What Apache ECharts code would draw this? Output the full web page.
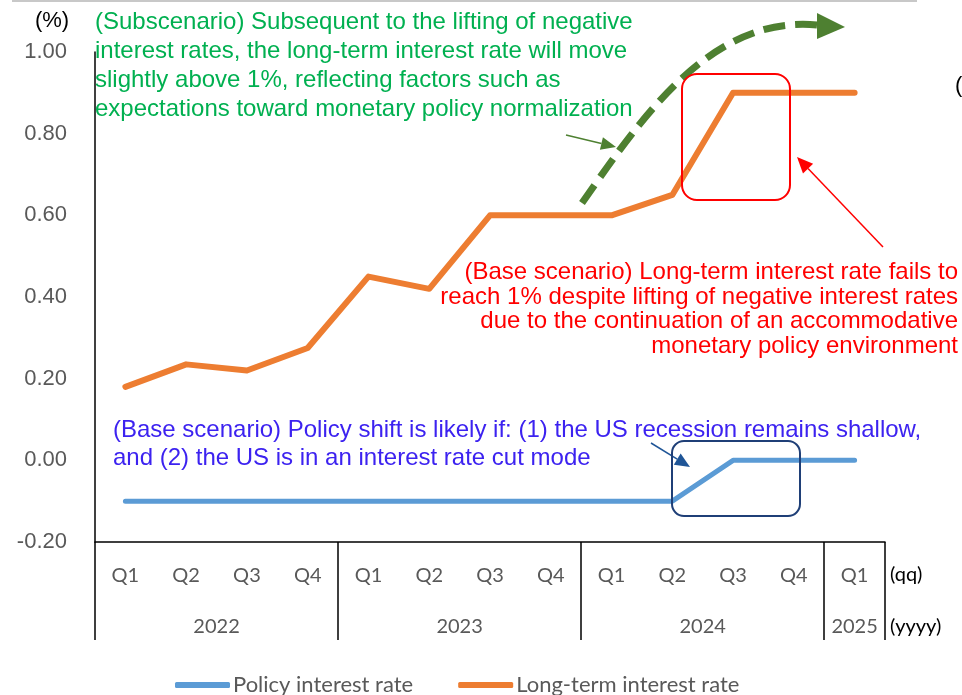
<!DOCTYPE html>
<html>
<head>
<meta charset="utf-8">
<script src="https://cdn.jsdelivr.net/npm/echarts@6/dist/echarts.min.js"></script>
<style>html,body{margin:0;padding:0;background:#fff;}#c{width:962px;height:695px;}</style>
</head>
<body>
<div id="c"></div>
<script>
const quarters = ['Q1','Q2','Q3','Q4','Q1','Q2','Q3','Q4','Q1','Q2','Q3','Q4','Q1'];
const years = ['2022','2023','2024','2025'];
const yearCenters = [2, 6, 10, 12.5];
const yearBounds = [0, 4, 8, 12, 13];
const policyRate = [-0.10,-0.10,-0.10,-0.10,-0.10,-0.10,-0.10,-0.10,-0.10,-0.10,0.00,0.00,0.00];
const longTermRate = [0.18,0.235,0.22,0.275,0.45,0.42,0.60,0.60,0.60,0.65,0.90,0.90,0.90];

const sansQ = 'Lato';
const sansA = '"Liberation Sans", Arial';

const chart = echarts.init(document.getElementById('c'), null, {renderer:'canvas'});

function arrow(x1,y1,x2,y2,color,w,hl,hw){
  const a = Math.atan2(y2-y1,x2-x1);
  const bx = x2 - hl*Math.cos(a), by = y2 - hl*Math.sin(a);
  const px = -Math.sin(a)*hw/2, py = Math.cos(a)*hw/2;
  return [
    {type:'line', shape:{x1:x1,y1:y1,x2:bx,y2:by}, style:{stroke:color,lineWidth:w}, z:10},
    {type:'polygon', shape:{points:[[x2,y2],[bx+px,by+py],[bx-px,by-py]]}, style:{fill:color}, z:10}
  ];
}

const graphics = [
  {type:'line', shape:{x1:12,y1:1,x2:917,y2:1}, style:{stroke:'#c8c8c8',lineWidth:2}},
  {type:'text', style:{x:52,y:21,text:'(%)',font:'22px '+sansA,fill:'#000',align:'center',verticalAlign:'middle'}},
  {type:'text', style:{x:955,y:86,text:'(',font:'22px '+sansA,fill:'#000',verticalAlign:'middle'}},
  {type:'text', style:{x:890,y:575,text:'(qq)',font:'20px '+sansQ,fill:'#000',verticalAlign:'middle'}},
  {type:'text', style:{x:890,y:627,text:'(yyyy)',font:'20px '+sansQ,fill:'#000',verticalAlign:'middle'}},
  {type:'text', z:20, style:{x:95,y:8,text:'(Subscenario) Subsequent to the lifting of negative\ninterest rates, the long-term interest rate will move\nslightly above 1%, reflecting factors such as\nexpectations toward monetary policy normalization',
     font:'24px '+sansA, lineHeight:29, fill:'#00B050', verticalAlign:'top'}},
  {type:'text', z:20, style:{x:958,y:260,text:'(Base scenario) Long-term interest rate fails to\nreach 1% despite lifting of negative interest rates\ndue to the continuation of an accommodative\nmonetary policy environment',
     font:'24px '+sansA, lineHeight:24.7, fill:'#FF0000', align:'right', verticalAlign:'top'}},
  {type:'text', z:20, style:{x:113,y:416,text:'(Base scenario) Policy shift is likely if: (1) the US recession remains shallow,\nand (2) the US is in an interest rate cut mode',
     font:'24px '+sansA, lineHeight:28, fill:'#3C22F0', verticalAlign:'top'}},
  {type:'rect', shape:{x:682,y:74,width:108,height:126,r:15}, style:{fill:'none',stroke:'#FF0000',lineWidth:2}, z:15},
  {type:'rect', shape:{x:672,y:441,width:128,height:75,r:12}, style:{fill:'none',stroke:'#1F3F77',lineWidth:2}, z:15},
  {type:'bezierCurve', shape:{x1:582,y1:203,cpx1:640,cpy1:120,cpx2:710,cpy2:15,x2:817,y2:25}, style:{fill:'none',stroke:'#4E8031',lineWidth:7,lineDash:[22,10]}, z:12},
  {type:'polygon', shape:{points:[[817,13],[845,27],[817,39]]}, style:{fill:'#4E8031'}, z:12}
].concat(arrow(883,247,797,157,'#FF0000',1.5,16,14))
 .concat(arrow(651,443,690,467,'#1F5597',1.5,15,13))
 .concat(arrow(566,135,616,147,'#4E8031',1.5,15,13));

chart.setOption({
  animation:false,
  grid:{left:95, right:77, top:52, bottom:153, containLabel:false},
  legend:{
    left:170, top:669, icon:'roundRect', itemWidth:55, itemHeight:6, itemGap:45,
    textStyle:{fontFamily:sansQ, fontSize:22, color:'#595959', padding:[0,0,0,-2]},
    data:['Policy interest rate','Long-term interest rate']
  },
  xAxis:[
    {type:'category', data:quarters, boundaryGap:true,
     axisLine:{show:true, onZero:false, lineStyle:{color:'#000', width:1.5}},
     axisTick:{show:false},
     axisLabel:{interval:0, margin:24, fontFamily:sansQ, fontSize:20, color:'#595959'},
     splitLine:{show:false}},
    {type:'value', min:0, max:13, position:'bottom',
     axisLine:{show:false, onZero:false},
     axisTick:{show:true, customValues:yearBounds, length:98, lineStyle:{color:'#000', width:1.5}},
     axisLabel:{customValues:yearCenters, margin:75, fontFamily:sansQ, fontSize:20, color:'#595959',
       formatter:function(v){ const i = yearCenters.indexOf(v); return i>=0 ? years[i] : ''; }},
     splitLine:{show:false}}
  ],
  yAxis:{type:'value', min:-0.2, max:1.0, interval:0.2,
    axisLine:{show:true, onZero:false, lineStyle:{color:'#000', width:1.5}},
    axisTick:{show:false}, splitLine:{show:false},
    axisLabel:{margin:28, fontFamily:sansA, fontSize:22, color:'#595959',
      formatter:function(v){ return v.toFixed(2); }}},
  series:[
    {name:'Policy interest rate', type:'line', data:policyRate, symbol:'none',
     itemStyle:{color:'#5B9BD5'}, lineStyle:{color:'#5B9BD5', width:5, cap:'round', join:'round'}, z:5},
    {name:'Long-term interest rate', type:'line', data:longTermRate, symbol:'none',
     itemStyle:{color:'#ED7D31'}, lineStyle:{color:'#ED7D31', width:6, cap:'round', join:'round'}, z:5}
  ],
  graphic:graphics
});
</script>
</body>
</html>
